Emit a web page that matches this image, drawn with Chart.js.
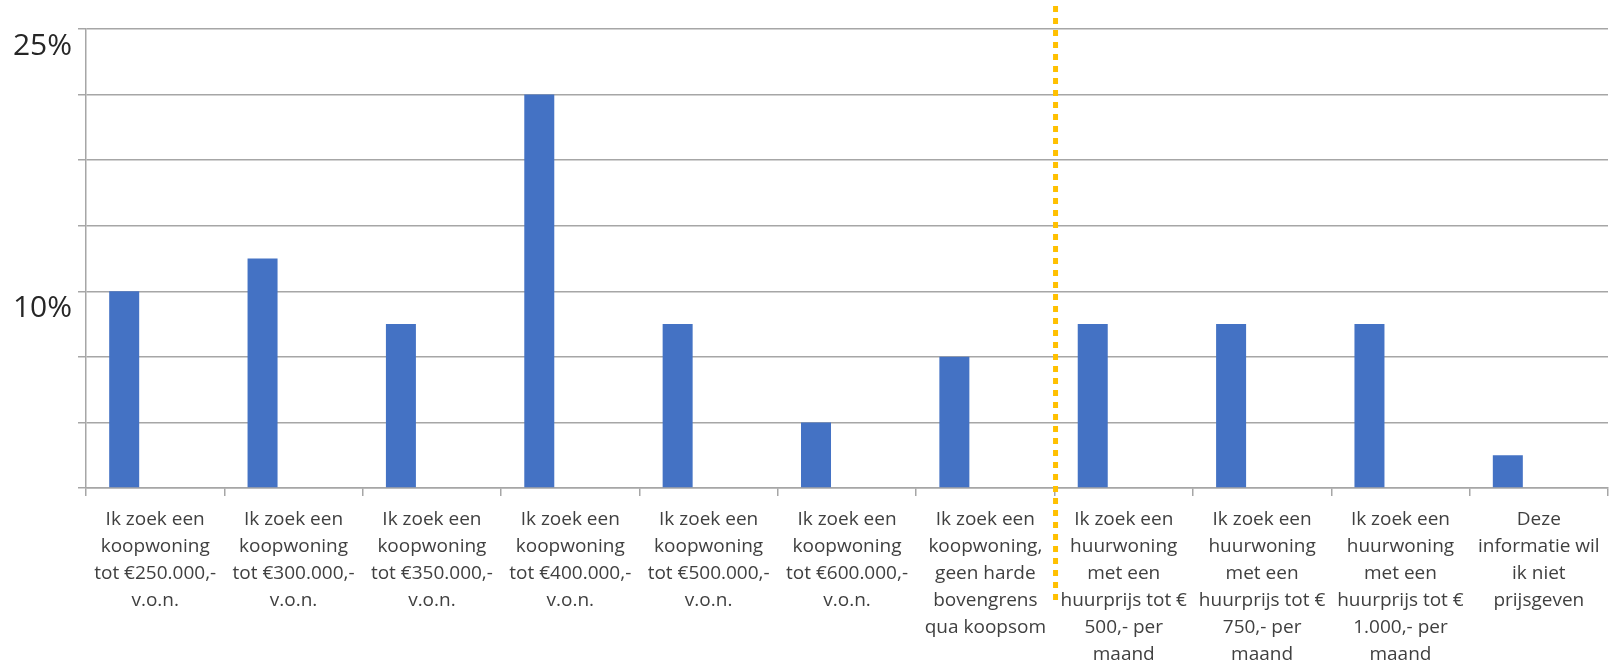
<!DOCTYPE html>
<html>
<head>
<meta charset="utf-8">
<script src="https://cdn.jsdelivr.net/npm/chart.js@4/dist/chart.umd.min.js"></script>
<style>
  html, body { margin: 0; padding: 0; background: #ffffff; }
  #wrap { width: 1612px; height: 663px; position: relative; }
</style>
</head>
<body>
<div id="wrap"><canvas id="chart" width="1612" height="663"></canvas></div>
<script>
// Categories (multi-line labels)
const categories = [
  ["Ik zoek een", "koopwoning", "tot €250.000,-", "v.o.n."],
  ["Ik zoek een", "koopwoning", "tot €300.000,-", "v.o.n."],
  ["Ik zoek een", "koopwoning", "tot €350.000,-", "v.o.n."],
  ["Ik zoek een", "koopwoning", "tot €400.000,-", "v.o.n."],
  ["Ik zoek een", "koopwoning", "tot €500.000,-", "v.o.n."],
  ["Ik zoek een", "koopwoning", "tot €600.000,-", "v.o.n."],
  ["Ik zoek een", "koopwoning,", "geen harde", "bovengrens", "qua koopsom"],
  ["Ik zoek een", "huurwoning", "met een", "huurprijs tot €", "500,- per", "maand"],
  ["Ik zoek een", "huurwoning", "met een", "huurprijs tot €", "750,- per", "maand"],
  ["Ik zoek een", "huurwoning", "met een", "huurprijs tot €", "1.000,- per", "maand"],
  ["Deze", "informatie wil", "ik niet", "prijsgeven"]
];

// Share of respondents per answer (%)
const shares = [10, 11.67, 8.33, 20, 8.33, 3.33, 6.67, 8.33, 8.33, 8.33, 1.67];

// Second (empty) series of the original sheet
const emptySeries = [null, null, null, null, null, null, null, null, null, null, null];

// Value axis gridlines and their labels
const gridValues = [0, 3.33, 6.67, 10, 13.33, 16.67, 20, 23.33];
const gridLabels = ["", "", "", "10%", "", "", "", "25%"];

// Koop / huur split sits after this many categories
const splitAfter = 7;

const splitLine = {
  id: 'splitLine',
  afterDatasetsDraw(chart) {
    const x = chart.scales.x;
    const area = chart.chartArea;
    const px = (x.getPixelForValue(splitAfter - 1) + x.getPixelForValue(splitAfter)) / 2 + 1;
    const ctx = chart.ctx;
    ctx.save();
    ctx.strokeStyle = '#FFC000';
    ctx.lineWidth = 5;
    ctx.setLineDash([6, 6]);
    ctx.beginPath();
    ctx.moveTo(px, area.top - 23);
    ctx.lineTo(px, area.bottom + 114);
    ctx.stroke();
    ctx.restore();
  }
};

new Chart(document.getElementById('chart'), {
  type: 'bar',
  data: {
    labels: categories,
    datasets: [
      {
        label: 'Aandeel',
        data: shares,
        backgroundColor: '#4472C4',
        borderWidth: 0,
        categoryPercentage: 0.896,
        barPercentage: 0.484
      },
      {
        label: '',
        data: emptySeries,
        backgroundColor: '#ED7D31',
        borderWidth: 0,
        categoryPercentage: 0.896,
        barPercentage: 0.484
      }
    ]
  },
  options: {
    responsive: false,
    animation: false,
    devicePixelRatio: 1,
    layout: { padding: { top: 29, right: 4, left: 0, bottom: 0 } },
    plugins: {
      legend: { display: false },
      tooltip: { enabled: false }
    },
    scales: {
      x: {
        grid: {
          display: true,
          drawOnChartArea: false,
          drawTicks: true,
          tickLength: 8,
          color: '#a6a6a6',
          lineWidth: 1.5
        },
        border: { display: true, color: '#a6a6a6', width: 1.5 },
        ticks: {
          autoSkip: false,
          maxRotation: 0,
          minRotation: 0,
          padding: 10,
          color: '#404040',
          font: { family: 'Open Sans', size: 19, lineHeight: 1.42 }
        },
        afterFit(scale) { scale.height = 175; }
      },
      y: {
        min: 0,
        max: gridValues[gridValues.length - 1],
        afterBuildTicks(scale) {
          scale.ticks = gridValues.map(v => ({ value: v }));
        },
        grid: {
          color: '#a6a6a6',
          lineWidth: 1.5,
          tickLength: 8,
          drawTicks: true
        },
        border: { display: true, color: '#a6a6a6', width: 1.5 },
        ticks: {
          padding: 6,
          labelOffset: 17,
          color: '#262626',
          font: { family: 'Open Sans', size: 30 },
          callback(value, index) { return gridLabels[index]; }
        },
        afterFit(scale) { scale.width = 86; }
      }
    }
  },
  plugins: [splitLine]
});
</script>
</body>
</html>
